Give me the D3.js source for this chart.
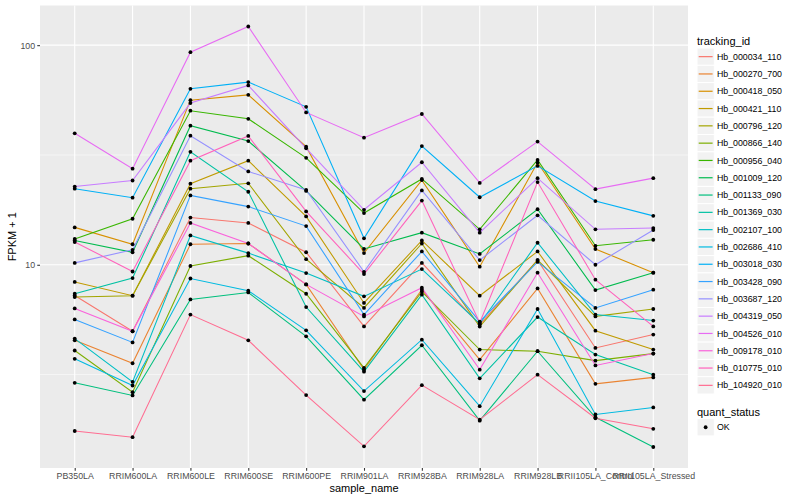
<!DOCTYPE html>
<html>
<head>
<meta charset="utf-8">
<script src="https://cdn.jsdelivr.net/npm/d3@7"></script>
<style>
  body { margin: 0; background: #fff; }
  text { font-family: "Liberation Sans", Arial, sans-serif; }
</style>
</head>
<body>
<svg id="chart" width="800" height="500"></svg>
<script>
// samples on the x axis
const samples = ["PB350LA", "RRIM600LA", "RRIM600LE", "RRIM600SE", "RRIM600PE", "RRIM901LA",
    "RRIM928BA", "RRIM928LA", "RRIM928LB", "RRII105LA_Control", "RRII105LA_Stressed"];

const trackingIds = ["Hb_000034_110", "Hb_000270_700", "Hb_000418_050", "Hb_000421_110", "Hb_000796_120",
    "Hb_000866_140", "Hb_000956_040", "Hb_001009_120", "Hb_001133_090", "Hb_001369_030",
    "Hb_002107_100", "Hb_002686_410", "Hb_003018_030", "Hb_003428_090", "Hb_003687_120",
    "Hb_004319_050", "Hb_004526_010", "Hb_009178_010", "Hb_010775_010", "Hb_104920_010"];

// FPKM + 1, one value per sample
const hb_000034_110 = [7.25, 4.98, 16.4, 15.5, 11.4, 5.24, 10.2, 5.34, 10.5, 4.18, 4.81];
const hb_000270_700 = [4.53, 3.56, 12.4, 12.5, 8.14, 3.33, 7.70, 3.70, 7.80, 2.87, 3.07];
const hb_000418_050 = [14.8, 12.4, 56.2, 59.4, 34.5, 11.3, 24.3, 9.8, 29.2, 11.8, 9.2];
const hb_000421_110 = [8.35, 7.23, 23.4, 29.8, 16.6, 6.70, 12.9, 7.23, 11.5, 5.01, 4.11];
const hb_000796_120 = [7.13, 7.23, 22.2, 23.5, 10.6, 6.36, 12.5, 5.23, 10.5, 5.82, 6.29];
const hb_000866_140 = [4.07, 2.63, 9.87, 11.0, 7.38, 3.39, 7.54, 4.11, 4.04, 3.66, 3.94];
const hb_000956_040 = [13.1, 16.2, 50.3, 46.2, 30.7, 17.2, 24.6, 14.5, 30.0, 12.2, 13.0];
const hb_001009_120 = [12.9, 11.4, 43.0, 36.6, 21.7, 11.8, 14.0, 11.2, 17.9, 7.67, 9.2];
const hb_001133_090 = [2.90, 2.54, 6.95, 7.48, 4.72, 2.43, 4.30, 1.95, 4.04, 2.02, 1.48];
const hb_001369_030 = [7.38, 8.70, 32.7, 21.5, 6.42, 3.26, 7.31, 3.04, 5.78, 3.90, 3.16];
const hb_002107_100 = [4.61, 2.93, 13.6, 11.3, 9.17, 7.18, 9.56, 5.39, 12.6, 5.93, 5.57];
const hb_002686_410 = [3.73, 2.82, 8.66, 7.62, 5.03, 2.66, 4.56, 2.27, 6.29, 2.08, 2.24];
const hb_003018_030 = [22.2, 20.2, 63.3, 67.9, 52.4, 13.2, 34.7, 20.3, 28.2, 19.5, 16.7];
const hb_003428_090 = [5.64, 4.43, 20.7, 18.4, 15.0, 5.93, 11.5, 5.51, 10.3, 6.36, 7.70];
const hb_003687_120 = [10.2, 11.7, 38.7, 26.6, 21.9, 9.29, 21.8, 10.5, 16.8, 10.0, 14.4];
const hb_004319_050 = [22.7, 24.2, 54.5, 65.6, 33.9, 17.8, 29.3, 14.0, 24.8, 14.5, 14.7];
const hb_004526_010 = [39.7, 27.4, 92.9, 121.6, 49.4, 37.9, 48.6, 23.6, 36.4, 22.1, 24.8];
const hb_009178_010 = [6.33, 4.98, 15.5, 12.5, 8.14, 5.82, 7.86, 3.33, 9.2, 3.48, 3.94];
const hb_010775_010 = [12.7, 9.32, 29.8, 38.6, 17.5, 9.07, 19.6, 5.45, 23.8, 8.55, 5.24];
const hb_104920_010 = [1.75, 1.64, 5.93, 4.53, 2.55, 1.49, 2.83, 1.97, 3.16, 2.0, 1.79];

const seriesValues = [hb_000034_110, hb_000270_700, hb_000418_050, hb_000421_110, hb_000796_120,
    hb_000866_140, hb_000956_040, hb_001009_120, hb_001133_090, hb_001369_030,
    hb_002107_100, hb_002686_410, hb_003018_030, hb_003428_090, hb_003687_120,
    hb_004319_050, hb_004526_010, hb_009178_010, hb_010775_010, hb_104920_010];

const quantStatus = ["OK"];
const yTicks = [10, 100];
const yMinorTicks = [3.162, 31.62];

// ggplot default hue palette, 20 levels
const palette = ["#F8766D", "#EA8331", "#D89000", "#C09B00", "#A3A500", "#7CAE00", "#39B600", "#00BB4E",
    "#00BF7D", "#00C1A3", "#00BFC4", "#00BAE0", "#00B0F6", "#35A2FF", "#9590FF", "#C77CFF",
    "#E76BF3", "#FA62DB", "#FF62BC", "#FF6C91"];

const panel = {left: 40, right: 688, top: 5.5, bottom: 468};

const svg = d3.select("#chart");

const x = d3.scalePoint()
    .domain(samples)
    .range([panel.left, panel.right])
    .padding(0.6);

// log scale, expanded 5% each side like ggplot
const allValues = seriesValues.flat();
const logExt = d3.extent(allValues).map(Math.log10);
const pad = (logExt[1] - logExt[0]) * 0.05;
const y = d3.scaleLog()
    .domain([Math.pow(10, logExt[0] - pad), Math.pow(10, logExt[1] + pad)])
    .range([panel.bottom, panel.top]);

const color = d3.scaleOrdinal().domain(trackingIds).range(palette);

// panel background + grid
svg.append("rect")
    .attr("x", panel.left).attr("y", panel.top)
    .attr("width", panel.right - panel.left).attr("height", panel.bottom - panel.top)
    .attr("fill", "#EBEBEB");

svg.append("g").selectAll("line")
    .data(yMinorTicks)
    .enter().append("line")
    .attr("x1", panel.left).attr("x2", panel.right)
    .attr("y1", d => y(d)).attr("y2", d => y(d))
    .attr("stroke", "#fff").attr("stroke-width", 0.55);

svg.append("g").selectAll("line")
    .data(yTicks)
    .enter().append("line")
    .attr("x1", panel.left).attr("x2", panel.right)
    .attr("y1", d => y(d)).attr("y2", d => y(d))
    .attr("stroke", "#fff").attr("stroke-width", 1.1);

svg.append("g").selectAll("line")
    .data(samples)
    .enter().append("line")
    .attr("x1", d => x(d)).attr("x2", d => x(d))
    .attr("y1", panel.top).attr("y2", panel.bottom)
    .attr("stroke", "#fff").attr("stroke-width", 1.1);

// lines
const line = d3.line()
    .x((d, i) => x(samples[i]))
    .y(d => y(d));

svg.append("g").selectAll("path")
    .data(seriesValues)
    .enter().append("path")
    .attr("d", line)
    .attr("fill", "none")
    .attr("stroke", (d, i) => color(trackingIds[i]))
    .attr("stroke-width", 1.07);

// points
const pts = [];
seriesValues.forEach(function (vals) {
    vals.forEach(function (v, i) { pts.push({sample: samples[i], value: v}); });
});

svg.append("g").selectAll("circle")
    .data(pts)
    .enter().append("circle")
    .attr("cx", d => x(d.sample))
    .attr("cy", d => y(d.value))
    .attr("r", 1.9)
    .attr("fill", "#000");

// axes
const xAxis = svg.append("g")
    .attr("transform", "translate(0," + panel.bottom + ")")
    .call(d3.axisBottom(x).tickSize(2.75).tickPadding(2.2));

const yAxis = svg.append("g")
    .attr("transform", "translate(" + panel.left + ",0)")
    .call(d3.axisLeft(y).tickValues(yTicks).tickFormat(d3.format("d")).tickSize(2.75).tickPadding(2.2));

[xAxis, yAxis].forEach(function (a) {
    a.select(".domain").remove();
    a.selectAll(".tick line").attr("stroke", "#333333").attr("stroke-width", 1.07);
    a.selectAll(".tick text")
        .attr("fill", "#4D4D4D")
        .style("font-size", "8.8px")
        .style("font-family", "'Liberation Sans', Arial, sans-serif");
});

svg.append("text")
    .attr("x", (panel.left + panel.right) / 2)
    .attr("y", 492)
    .attr("text-anchor", "middle")
    .style("font-size", "11px")
    .text("sample_name");

svg.append("text")
    .attr("transform", "translate(16," + ((panel.top + panel.bottom) / 2) + ") rotate(-90)")
    .attr("text-anchor", "middle")
    .style("font-size", "11px")
    .text("FPKM + 1");

// legend: tracking_id
const keyH = 17.3;
const legX = 697;
const legend = svg.append("g");

legend.append("text")
    .attr("x", legX).attr("y", 44.5)
    .style("font-size", "11px")
    .text("tracking_id");

const keys = legend.selectAll(".key")
    .data(trackingIds)
    .enter().append("g")
    .attr("class", "key")
    .attr("transform", (d, i) => "translate(" + legX + "," + (48 + i * keyH) + ")");

keys.append("rect")
    .attr("width", keyH).attr("height", keyH)
    .attr("fill", "#F2F2F2").attr("stroke", "#fff").attr("stroke-width", 1);

keys.append("line")
    .attr("x1", 1.7).attr("x2", keyH - 1.7)
    .attr("y1", keyH / 2).attr("y2", keyH / 2)
    .attr("stroke", d => color(d)).attr("stroke-width", 1.2);

keys.append("text")
    .attr("x", keyH + 2.6).attr("y", keyH / 2)
    .attr("dy", "0.35em")
    .style("font-size", "8.8px")
    .text(d => d);

// legend: quant_status
const qY = 407;
legend.append("text")
    .attr("x", legX).attr("y", qY + 8.5)
    .style("font-size", "11px")
    .text("quant_status");

const qKeys = legend.selectAll(".qkey")
    .data(quantStatus)
    .enter().append("g")
    .attr("class", "qkey")
    .attr("transform", (d, i) => "translate(" + legX + "," + (qY + 11.6 + i * keyH) + ")");

qKeys.append("rect")
    .attr("width", keyH).attr("height", keyH)
    .attr("fill", "#F2F2F2").attr("stroke", "#fff").attr("stroke-width", 1);

qKeys.append("circle")
    .attr("cx", keyH / 2).attr("cy", keyH / 2).attr("r", 1.9)
    .attr("fill", "#000");

qKeys.append("text")
    .attr("x", keyH + 2.6).attr("y", keyH / 2)
    .attr("dy", "0.35em")
    .style("font-size", "8.8px")
    .text(d => d);
</script>
</body>
</html>
